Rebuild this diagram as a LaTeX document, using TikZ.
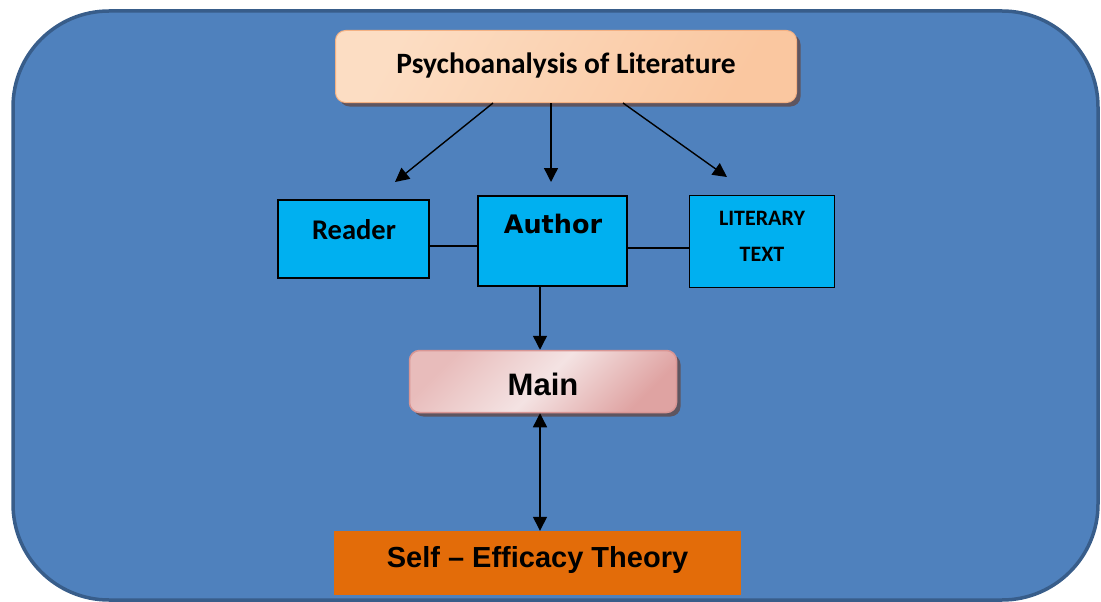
\documentclass[tikz,border=0pt]{standalone}
\usepackage{fontspec}
\setmainfont{Carlito}
\newfontfamily\arialb{Liberation Sans}[Ligatures=NoCommon]
\newfontfamily\verdb{DejaVu Sans}
\usetikzlibrary{arrows.meta,shadows}
\definecolor{frameblue}{HTML}{4F81BD}
\definecolor{framedark}{HTML}{385D8A}
\definecolor{cyanbox}{HTML}{00B0F0}
\definecolor{peachD}{HTML}{FAC7A0}
\definecolor{peachM}{HTML}{FCDDC3}
\definecolor{peachL}{HTML}{FDEEE2}
\definecolor{peachB}{HTML}{F4B183}
\definecolor{pinkD}{HTML}{D99694}
\definecolor{pinkR}{HTML}{DFA3A2}
\definecolor{pinkM}{HTML}{E8BCBB}
\definecolor{pinkL}{HTML}{F4E3E3}
\definecolor{orangebox}{HTML}{E36C09}
\definecolor{shadowc}{HTML}{5E5560}
\tikzset{
  cbox/.style={draw=black,fill=cyanbox,inner sep=0pt},
  conn/.style={draw=black,line width=1.4pt},
  arr/.style={conn,-{Triangle[length=14pt,width=14pt]}},
  darr/.style={conn,{Triangle[length=14pt,width=14pt]}-{Triangle[length=14pt,width=14pt]}},
  lbl/.style={inner sep=0pt,font=\bfseries}
}
\begin{document}
\begin{tikzpicture}[x=1pt,y=-1pt]
\useasboundingbox (0,0) rectangle (1101,602);
% frame
\draw[line width=3.5pt,draw=framedark,fill=frameblue,rounded corners=96pt] (13,11) rectangle (1098,600);
% top box
\node[inner sep=0pt,minimum width=461pt,minimum height=72pt,rounded corners=10pt,
  draw=peachB,line width=1pt,left color=peachM,middle color=peachL,right color=peachD,shading angle=60,
  drop shadow={shadow xshift=4pt,shadow yshift=-4pt,fill=shadowc,opacity=1}] (psy) at (566,66.5) {};
\node[lbl,font=\fontsize{29.5}{32}\selectfont\bfseries] (psyT) at (566,65) {Psychoanalysis of Literature};
% middle boxes
\node[cbox,line width=2pt,minimum width=151pt,minimum height=78pt] (reader) at (353.5,239) {};
\node[lbl,font=\fontsize{28.5}{30}\selectfont\bfseries] (readerT) at (354,230) {Reader};
\node[cbox,line width=2pt,minimum width=149pt,minimum height=90pt] (author) at (552.5,241) {};
\node[lbl,font=\fontsize{25.5}{28}\selectfont\verdb\bfseries] (authorT) at (553,224) {Author};
\node[cbox,line width=1pt,minimum width=145pt,minimum height=92pt] (lit) at (762,241.5) {};
\node[lbl,font=\fontsize{22}{36}\selectfont\bfseries,align=center] (litT) at (762,236) {LITERARY\\TEXT};
% main
\node[inner sep=0pt,minimum width=267pt,minimum height=62pt,rounded corners=10pt,
  draw=pinkD,line width=1.5pt,left color=pinkM,right color=pinkR,middle color=pinkL,shading angle=45,
  drop shadow={shadow xshift=4pt,shadow yshift=-4pt,fill=shadowc,opacity=1}] (main) at (543,381.5) {};
\node[lbl,font=\fontsize{31}{33}\selectfont\arialb\bfseries] (mainT) at (543,384) {Main};
% self efficacy
\node[inner sep=0pt,fill=orangebox,minimum width=407pt,minimum height=64pt] (self) at (537.5,563) {};
\node[lbl,font=\fontsize{29}{31}\selectfont\arialb\bfseries] (selfT) at (537.5,559.5) {Self – Efficacy Theory};
% connector coordinates
\coordinate (p1) at (493,0);
\coordinate (p2) at (551,0);
\coordinate (p3) at (623,0);
\coordinate (e1) at (395,182);
\coordinate (e2) at (551,182);
\coordinate (e3) at (727,177);
\coordinate (vx) at (540,0);
\coordinate (ry) at (0,246);
\coordinate (ly) at (0,248);
% connectors
\draw[arr] (psy.south -| p1) -- (e1);
\draw[arr] (psy.south -| p2) -- (e2);
\draw[arr] (psy.south -| p3) -- (e3);
\draw[conn] (reader.east |- ry) -- (author.west |- ry);
\draw[conn] (author.east |- ly) -- (lit.west |- ly);
\draw[arr] (author.south -| vx) -- (main.north -| vx);
\draw[darr] (main.south -| vx) -- (self.north -| vx);
\end{tikzpicture}
\end{document}
